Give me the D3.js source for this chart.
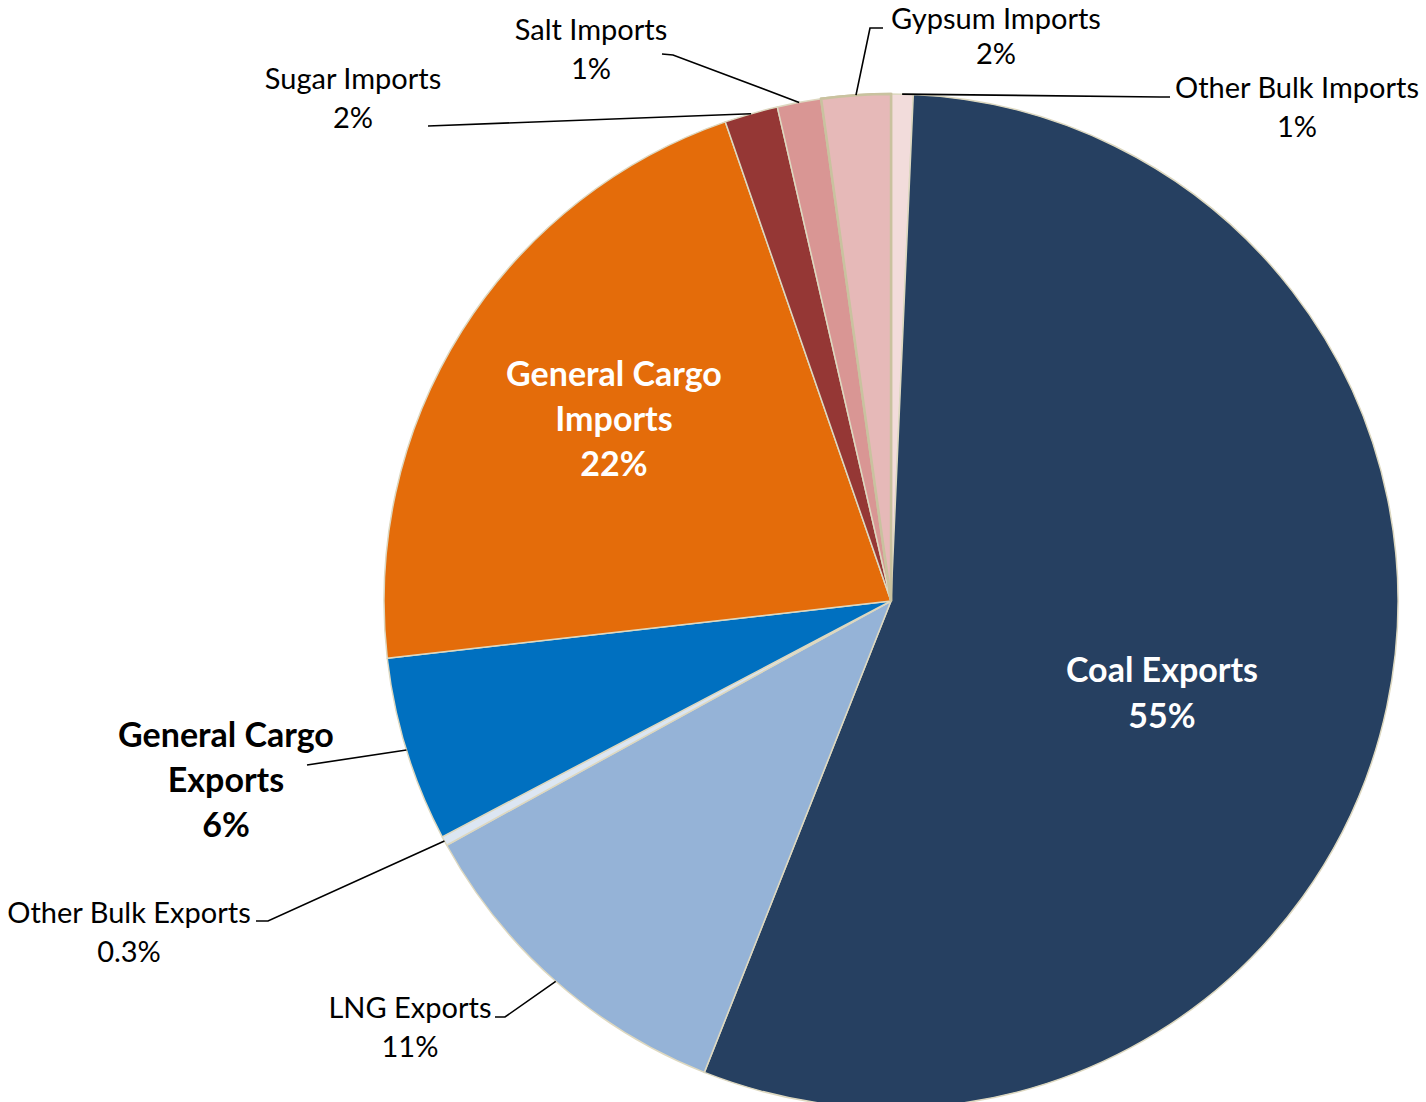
<!DOCTYPE html>
<html>
<head>
<meta charset="utf-8">
<script src="https://cdn.jsdelivr.net/npm/d3@7"></script>
<style>
  html, body { margin: 0; padding: 0; background: #fff; }
  svg { display: block; }
  text { font-family: Lato, "Open Sans", sans-serif; }
</style>
</head>
<body>
<svg id="chart" width="1426" height="1102"></svg>
<script>
// ---- data ----
const categories = ["Other Bulk Imports", "Coal Exports", "LNG Exports", "Other Bulk Exports",
  "General Cargo Exports", "General Cargo Imports", "Sugar Imports", "Salt Imports", "Gypsum Imports"];
const shares = [0.7, 55.3, 11.0, 0.3, 5.9, 21.5, 1.7, 1.4, 2.2];
const shareLabels = ["1%", "55%", "11%", "0.3%", "6%", "22%", "2%", "1%", "2%"];
const labelLines = [
  ["Other Bulk Imports"], ["Coal Exports"], ["LNG Exports"], ["Other Bulk Exports"],
  ["General Cargo", "Exports"], ["General Cargo", "Imports"], ["Sugar Imports"], ["Salt Imports"], ["Gypsum Imports"]
];

// ---- styles / layout ----
const colors = ["#F2DCDB", "#264061", "#95B3D7", "#DCE6F2", "#0070C0", "#E46C0A", "#953735", "#D99694", "#E6B9B8"];
const cx = 891, cy = 601, R = 507;
// label layout: x center, first baseline, line height, font size, weight, fill, leader elbow points
const layout = [
  {x: 1297, y: 98, lh: 39, fs: 29, fw: 400, fill: "#000", leader: [[1160, 97], [1170, 97]]},
  {x: 1162, y: 682, lh: 46, fs: 34, fw: 700, fill: "#fff"},
  {x: 410, y: 1018, lh: 39, fs: 29, fw: 400, fill: "#000", leader: [[505, 1017], [495, 1017]]},
  {x: 129, y: 923, lh: 39, fs: 29, fw: 400, fill: "#000", leader: [[268, 921], [256, 921]]},
  {x: 226, y: 747, lh: 45, fs: 34, fw: 700, fill: "#000", leader: [[307, 765]]},
  {x: 614, y: 386, lh: 45, fs: 34, fw: 700, fill: "#fff"},
  {x: 353, y: 89, lh: 39, fs: 29, fw: 400, fill: "#000", leader: [[428, 126]]},
  {x: 591, y: 40, lh: 39, fs: 29, fw: 400, fill: "#000", leader: [[673, 55], [662, 54]]},
  {x: 996, y: 29, lh: 35, fs: 29, fw: 400, fill: "#000", leader: [[870, 28], [883, 28]]}
];

const svg = d3.select("#chart");
const g = svg.append("g").attr("transform", `translate(${cx},${cy})`);

const pie = d3.pie().sort(null).value(d => d).startAngle(0).endAngle(2 * Math.PI);
const arcs = pie(shares);
const arc = d3.arc().innerRadius(0).outerRadius(R);
const rimArc = d3.arc().innerRadius(R).outerRadius(R);

g.selectAll("path.slice")
  .data(arcs)
  .join("path")
  .attr("class", "slice")
  .attr("d", arc)
  .attr("fill", (d, i) => colors[i])
  .attr("stroke", (d, i) => i === 8 ? "#C9C29F" : "#DDD8C0")
  .attr("stroke-width", (d, i) => i === 8 ? 2.5 : 1.5)
  .attr("stroke-linejoin", "round");

// redraw gypsum on top so its border is visible
g.append("path")
  .attr("d", arc(arcs[8]))
  .attr("fill", colors[8])
  .attr("stroke", "#C9C29F")
  .attr("stroke-width", 2.5);

// leader lines
const lineGen = d3.line();
arcs.forEach((a, i) => {
  const L = layout[i];
  if (!L.leader) return;
  const [px, py] = rimArc.centroid(a);
  const pts = [[px + cx, py + cy]].concat(L.leader);
  svg.append("path")
    .attr("d", lineGen(pts))
    .attr("fill", "none")
    .attr("stroke", "#000")
    .attr("stroke-width", 1.6);
});

// labels
arcs.forEach((a, i) => {
  const L = layout[i];
  const lines = labelLines[i].concat([shareLabels[i]]);
  const t = svg.append("text")
    .attr("text-anchor", "middle")
    .attr("font-size", L.fs)
    .attr("font-weight", L.fw)
    .attr("fill", L.fill);
  lines.forEach((s, k) => {
    t.append("tspan").attr("x", L.x).attr("y", L.y + k * L.lh).text(s);
  });
});
</script>
</body>
</html>
